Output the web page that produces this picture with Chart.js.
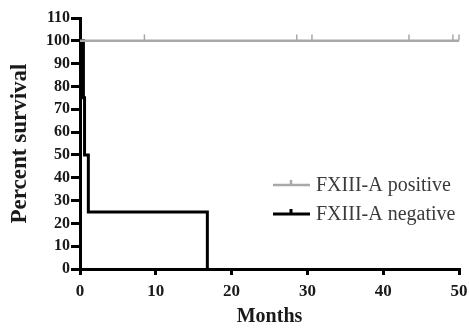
<!DOCTYPE html>
<html>
<head>
<meta charset="utf-8">
<script src="https://cdn.jsdelivr.net/npm/chart.js@4"></script>
<style>
    html, body { margin: 0; padding: 0; background: #fff; }
    #wrap { width: 469px; height: 329px; }
</style>
</head>
<body>
<div id="wrap"><canvas id="survivalChart" width="469" height="329"></canvas></div>
<script>
// Kaplan-Meier curves (months, percent survival)
const posTimes = [0, 50];
const posSurvival = [100, 100];
const posCensored = [8.5, 28.6, 30.6, 43.4, 49.2, 50];

const negTimes = [0, 0.45, 0.6, 1.1, 16.8];
const negSurvival = [100, 75, 50, 25, 0];

const seriesLabels = ['FXIII-A positive', 'FXIII-A negative'];
const xTicks = [0, 10, 20, 30, 40, 50];
const yTicks = [0, 10, 20, 30, 40, 50, 60, 70, 80, 90, 100, 110];

const serif = '"Liberation Serif", "DejaVu Serif", serif';
const posColor = '#a8a8a8';
const negColor = '#000000';

const toPoints = (xs, ys) => xs.map((x, i) => ({ x: x, y: ys[i] }));

// Legend drawn inside the plot, line sample with a censor tick
const innerLegend = {
    id: 'innerLegend',
    afterDraw(chart) {
        const ctx = chart.ctx;
        const items = [
            { text: seriesLabels[0], color: posColor, width: 2.5, y: 185 },
            { text: seriesLabels[1], color: negColor, width: 3, y: 214 }
        ];
        ctx.save();
        items.forEach(function(it) {
            ctx.strokeStyle = it.color;
            ctx.lineWidth = it.width;
            ctx.beginPath();
            ctx.moveTo(273, it.y);
            ctx.lineTo(310, it.y);
            ctx.moveTo(291, it.y);
            ctx.lineTo(291, it.y - 5);
            ctx.stroke();
            ctx.fillStyle = '#3a3a3a';
            ctx.font = '20px ' + serif;
            ctx.textBaseline = 'middle';
            ctx.fillText(it.text, 316, it.y + 1);
        });
        ctx.restore();
    }
};

const ctx = document.getElementById('survivalChart').getContext('2d');
new Chart(ctx, {
    type: 'line',
    data: {
        datasets: [{
            label: seriesLabels[0],
            data: toPoints(posTimes, posSurvival),
            borderColor: posColor,
            borderWidth: 2.5,
            stepped: 'before',
            pointRadius: 0,
            clip: false
        }, {
            label: seriesLabels[0] + ' censored',
            data: toPoints(posCensored, posCensored.map(() => 101.5)),
            showLine: false,
            pointStyle: 'line',
            rotation: 90,
            pointRadius: 3,
            borderColor: posColor,
            borderWidth: 1.5,
            clip: false
        }, {
            label: seriesLabels[1],
            data: toPoints(negTimes, negSurvival),
            borderColor: negColor,
            borderWidth: 3,
            stepped: 'before',
            pointRadius: 0,
            clip: false
        }]
    },
    options: {
        responsive: false,
        animation: false,
        layout: { padding: { top: 18, right: 0, left: 6, bottom: 0 } },
        plugins: {
            legend: { display: false },
            tooltip: { enabled: false }
        },
        scales: {
            x: {
                type: 'linear',
                min: 0,
                max: 50,
                afterBuildTicks: (s) => { s.ticks = xTicks.map(v => ({ value: v })); },
                afterFit: (s) => { s.height = 60; s.paddingRight = 10; },
                border: { display: true, color: '#000', width: 3 },
                grid: { drawOnChartArea: false, drawTicks: true, tickLength: 6, color: '#000', lineWidth: 3 },
                ticks: { color: '#1a1a1a', padding: 6, font: { family: serif, size: 17, weight: 'bold' } },
                title: { display: true, text: 'Months', color: '#1a1a1a', padding: 0, font: { family: serif, size: 20, weight: 'bold' } }
            },
            y: {
                min: 0,
                max: 110,
                afterBuildTicks: (s) => { s.ticks = yTicks.map(v => ({ value: v })); },
                afterFit: (s) => { s.width = 74; },
                border: { display: true, color: '#000', width: 3 },
                grid: { drawOnChartArea: false, drawTicks: true, tickLength: 9, color: '#000', lineWidth: 3 },
                ticks: { color: '#1a1a1a', padding: 1, font: { family: serif, size: 16, weight: 'bold' } },
                title: { display: true, text: 'Percent survival', color: '#1a1a1a', padding: 0, font: { family: serif, size: 23, weight: 'bold' } }
            }
        }
    },
    plugins: [innerLegend]
});
</script>
</body>
</html>
